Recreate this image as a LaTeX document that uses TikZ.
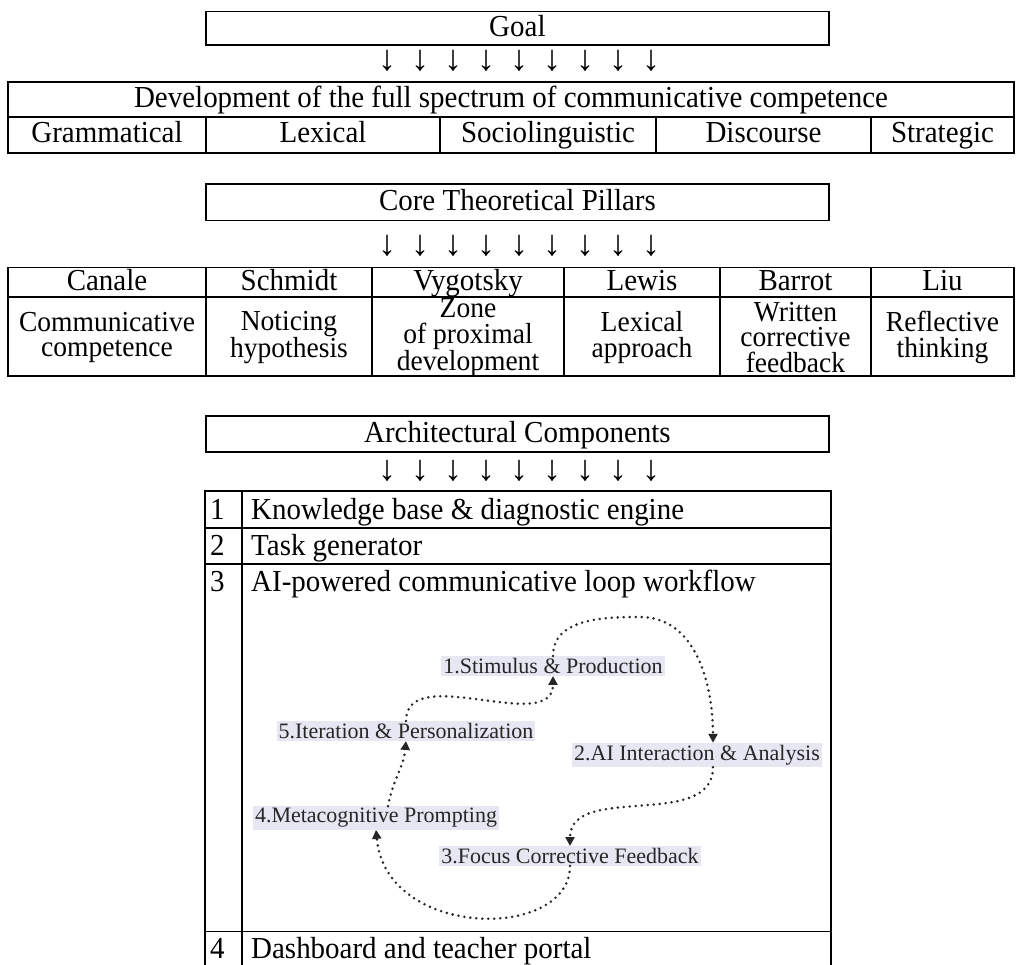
\documentclass[tikz,border=0pt]{standalone}
\usepackage{fontspec}
\setmainfont{Liberation Serif}[FakeStretch=0.95]
\newfontfamily\plainserif{Liberation Serif}
\usetikzlibrary{arrows.meta}
\definecolor{lavender}{RGB}{231,231,244}
\newcommand{\bigtext}{\fontsize{30.5}{24.5}\selectfont}
\newcommand{\bodytext}{\fontsize{29}{25.5}\selectfont}
\newcommand{\smalltext}{\plainserif\fontsize{22}{22}\selectfont}

\begin{document}
\begin{tikzpicture}
  [x=1pt,y=-1pt,
   cell/.style={draw=black,line width=1.5pt,inner sep=0pt,align=center,font=\bigtext},
   line/.style={cell,text height=23pt,text depth=7pt},
   txt/.style={inner sep=0pt,font=\bigtext},
   down/.style={inner sep=0pt,font=\plainserif\fontsize{36}{36}\selectfont},
   stage/.style={fill=lavender,inner sep=2pt,font=\smalltext,text=black!85},
   flow/.style={black!85,line width=2.8pt,dash pattern=on 0pt off 6pt,line cap=round,-{Triangle[length=9pt,width=9pt]}}]
  \useasboundingbox (0,0) rectangle (1016,965);

  % goal and competences
  \node (goal) at (517.4,28.4) [line,minimum width=623pt,minimum height=33.3pt] {Goal};
  \node (dev) at (511,99.5) [line,minimum width=1006pt,minimum height=35pt] {Development of the full spectrum of communicative competence};
  \foreach \n/\x/\w/\t in {gram/107/198/Grammatical, lex/323/234/Lexical, socio/548/216/Sociolinguistic, disc/763.5/215/Discourse, strat/942.5/143/Strategic}
    \node (\n) at (\x,135) [line,minimum width=\w pt,minimum height=36pt] {\t};

  % pillars
  \node (core) at (517.4,202.4) [line,minimum width=623pt,minimum height=36.7pt] {Core Theoretical Pillars};
  \foreach \n/\x/\w/\h/\b in {canale/107/198/Canale/{Communicative\\competence},
      schmidt/289/166/Schmidt/{Noticing\\hypothesis},
      vygotsky/468/192/Vygotsky/{Zone\\of proximal\\development},
      lewis/642/156/Lewis/{Lexical\\approach},
      barrot/795.5/151/Barrot/{Written\\corrective\\feedback},
      liu/942.5/143/Liu/{Reflective\\thinking}}
  {
    \node (\n) at (\x,282.5) [line,minimum width=\w pt,minimum height=29pt] {\h};
    \node (\n-b) at (\x,336.5) [cell,minimum width=\w pt,minimum height=79pt] {};
    \node (\n-t) at (\x,337.5) [txt,align=center,font=\bodytext] {\b};
  }

  % components
  \node (arch) at (517.4,434) [line,minimum width=623pt,minimum height=36pt] {Architectural Components};
  \foreach \i/\y/\h in {1/509.5/37, 2/546/36, 3/747.85/367.7, 4/949.7/36}
  {
    \node (num\i) at (223.5,\y) [cell,minimum width=37pt,minimum height=\h pt] {};
    \node (comp\i) at (536.5,\y) [cell,minimum width=589pt,minimum height=\h pt] {};
  }
  \foreach \i/\y/\t in {1/519/{Knowledge base \& diagnostic engine}, 2/555/{Task generator},
      3/591/{AI-powered communicative loop workflow}, 4/958/{Dashboard and teacher portal}}
  {
    \node (k\i) at (210,\y) [txt,anchor=base west] {\i};
    \node (label\i) at (251,\y) [txt,anchor=base west] {\t};
  }

  % arrow rows
  \foreach \r/\y in {g/61,p/246,c/471}
    \foreach \i in {0,...,8}
      \node (\r\i) at ({387+33*\i},\y) [down] {↓};

  % loop workflow
  \node (s1) at (553,666) [stage] {1.Stimulus \& Production};
  \node (s2) at (697,755) [stage] {2.AI Interaction \& Analysis};
  \node (s3) at (570,856) [stage] {3.Focus Corrective Feedback};
  \node (s4) at (376,818) [stage] {4.Metacognitive Prompting};
  \node (s5) at (406,731) [stage] {5.Iteration \& Personalization};
  \coordinate (top) at (640,617);

  \draw[flow] (s1.north) to[out=90,in=180] (top) to[out=0,in=90] ([xshift=16pt]s2.north);
  \draw[flow] ([xshift=16pt]s2.south) to[out=-90,in=90] (s3.north);
  \draw[flow] (s3.south) .. controls +(0,75) and +(10,110) .. (s4.south);
  \draw[flow] ([xshift=12pt]s4.north) to[out=80,in=-95] (s5.south);
  \draw[flow] (s5.north) to[out=90,in=-90] (s1.south);
\end{tikzpicture}
\end{document}
